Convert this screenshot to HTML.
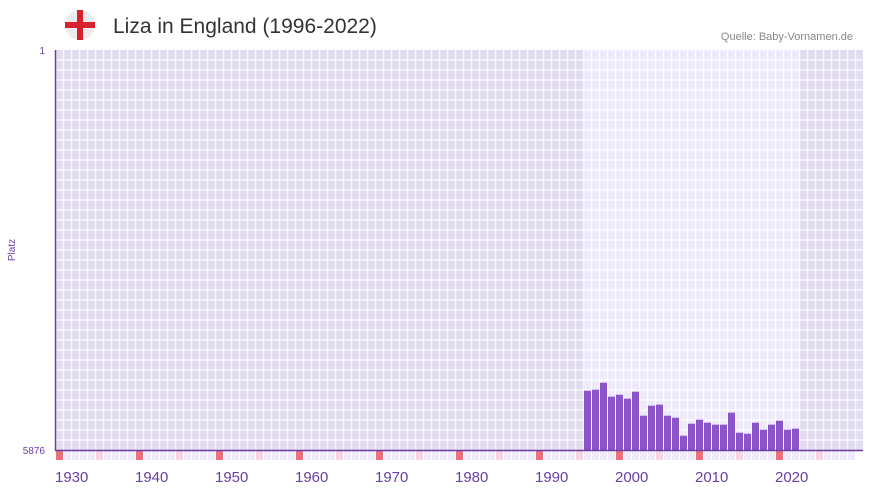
<!DOCTYPE html>
<html><head><meta charset="utf-8"><style>
body{margin:0;background:#fff;font-family:"Liberation Sans",sans-serif;}
svg{display:block}
</style></head><body>
<svg id="c" width="873" height="492">
<g>
<circle cx="80" cy="25" r="15" fill="#ececec"/>
<rect x="77" y="10" width="6" height="30" fill="#d6222e"/>
<rect x="65" y="22" width="30" height="6" fill="#d6222e"/>
</g>
<text x="113" y="33" font-size="21" fill="#333">Liza in England (1996-2022)</text>
<text x="853" y="40" font-size="11" fill="#888" text-anchor="end">Quelle: Baby-Vornamen.de</text>
<text x="15" y="250" font-size="10" fill="#6a3fa0" text-anchor="middle" transform="rotate(-90 15 250)">Platz</text>
<text x="45" y="54" font-size="10" fill="#6a3fa0" text-anchor="end">1</text>
<text x="45" y="454" font-size="10" fill="#6a3fa0" text-anchor="end">5876</text>
<g id="grid"></g><g id="bars"></g><g id="marks"></g><g id="xt"></g>
<line x1="55.5" y1="50" x2="55.5" y2="450.5" stroke="#6a3fa0" stroke-width="1.5"/>
<line x1="55" y1="450.5" x2="863" y2="450.5" stroke="#6a3fa0" stroke-width="1.5"/>
</svg>
<script>
const years=[1996,1997,1998,1999,2000,2001,2002,2003,2004,2005,2006,2007,2008,2009,2010,2011,2012,2013,2014,2015,2016,2017,2018,2019,2020,2021,2022];
const ranks=[5005,4990,4888,5093,5064,5122,5020,5372,5225,5210,5372,5402,5666,5490,5431,5475,5504,5504,5328,5622,5637,5475,5578,5504,5446,5578,5563];
const xTicks=[1930,1940,1950,1960,1970,1980,1990,2000,2010,2020];
const yMin=1,yMax=5876,startYear=1930,endYear=2030;
const NS="http://www.w3.org/2000/svg";
const X=y=>56+(y-startYear)*8;
const Y=r=>50+(r-yMin)/(yMax-yMin)*400;
function el(t,a,p){const e=document.createElementNS(NS,t);for(const k in a)e.setAttribute(k,a[k]);document.getElementById(p).appendChild(e);return e;}
const y0=years[0],y1=years[years.length-1]+1;
let b=el('rect',{x:55,y:50,width:808,height:400,fill:'#e1dcee'},'grid');


b=el('rect',{x:X(y0),y:50,width:X(y1)-X(y0),height:400,fill:'#eee9fa'},'grid');


for(let x=56;x<=863;x+=8)el('line',{x1:x-0.5,y1:50,x2:x-0.5,y2:450,stroke:'#ffffff','stroke-width':1.4,'stroke-opacity':0.75},'grid');
for(let y=60;y<450;y+=10)el('line',{x1:55,y1:y,x2:863,y2:y,stroke:'#ffffff','stroke-width':1.4,'stroke-opacity':0.75},'grid');
years.forEach((yr,i)=>{
 const top=Y(ranks[i]);
 const r=el('rect',{x:X(yr),y:top,width:7,height:450-top,fill:'#8b54c8'},'bars');
 
 
});
for(let yr=startYear;yr<endYear;yr++){
 const m=yr%10===0?'#e8727c':(yr%5===0?'#f5d6e1':'#f0ebf9');
 const r=el('rect',{x:X(yr),y:451,width:7,height:9,fill:m},'marks');
 
 
}
xTicks.forEach(t=>{
 const tx=el('text',{x:X(t)-1,y:482,'font-size':15,fill:'#6a3fa0'},'xt');
 tx.textContent=t;
 
 
});
</script>
</body></html>
